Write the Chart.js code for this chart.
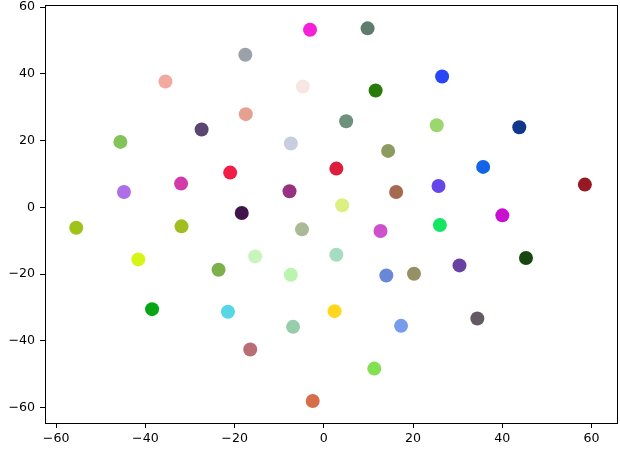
<!DOCTYPE html>
<html>
<head>
<meta charset="utf-8">
<script src="https://cdn.jsdelivr.net/npm/chart.js@4"></script>
<style>
  html, body { margin: 0; padding: 0; background: #fff; }
  #wrap { width: 620px; height: 450px; }
</style>
</head>
<body>
<div id="wrap"><canvas id="grafico"></canvas></div>
<script>
// centros dos grupos
const clusterX = [-3.1, 9.8, -17.6, -35.5, -4.7, -17.5, -27.4, -45.6, -7.4, -21.0,
                  -32.0, -44.8, -7.7, -18.4, 26.5, 11.6, 5.0, 25.3, 43.8, 14.4,
                  2.8, 35.7, 16.2, 25.7, 58.5, 4.1, 40.0, -55.5, -31.9, -4.9,
                  -41.6, -15.4, -23.6, -7.4, -38.5, -21.5, -6.9, -16.5, -2.5, 12.7,
                  26.0, 2.8, 14.0, 20.2, 30.4, 45.3, 2.4, 17.3, 34.4, 11.3];
const clusterY = [53.2, 53.6, 45.7, 37.7, 36.2, 27.9, 23.3, 19.6, 19.1, 10.4,
                  7.1, 4.6, 4.8, -1.7, 39.2, 35.0, 25.8, 24.6, 24.0, 16.9,
                  11.6, 12.1, 4.6, 6.4, 6.8, 0.6, -2.4, -6.1, -5.7, -6.6,
                  -15.6, -14.7, -18.7, -20.2, -30.5, -31.3, -35.8, -42.6, -58.0, -7.1,
                  -5.3, -14.2, -20.4, -19.9, -17.4, -15.2, -31.1, -35.5, -33.3, -48.3];
const clusterColors = ['#f520d8', '#5f7d6e', '#9ba0aa', '#f2aaa0', '#f6e6e4', '#e6a090', '#5a466e', '#84c35a', '#c8cde0', '#f01e46',
                       '#d23caa', '#af6ee6', '#963282', '#41144b', '#2846f5', '#287a0a', '#6e917d', '#9bd76e', '#0f378c', '#8c9b5f',
                       '#dc1e3c', '#1464e6', '#a56950', '#6446eb', '#961923', '#dcf082', '#c80fd2', '#a0c319', '#a0be1e', '#aab996',
                       '#d7f514', '#c8f5be', '#7daf4b', '#b9f5af', '#0aa514', '#55d7e6', '#96cdaa', '#b96e73', '#d76e4b', '#cd50cd',
                       '#14e664', '#a5dcc3', '#6987d7', '#969164', '#6941a0', '#19460f', '#ffd71e', '#789beb', '#645a64', '#82e150'];
const xTicks = [-60, -40, -20, 0, 20, 40, 60];
const yTicks = [-60, -40, -20, 0, 20, 40, 60];

const pontos = clusterX.map((x, i) => ({ x: x, y: clusterY[i] }));

// moldura completa (estilo matplotlib)
const moldura = {
    id: 'moldura',
    afterDraw(chart) {
        const a = chart.chartArea, ctx = chart.ctx;
        ctx.save();
        ctx.strokeStyle = '#000';
        ctx.lineWidth = 1;
        ctx.strokeRect(a.left + 0.5, a.top + 0.5, a.right - a.left, a.bottom - a.top);
        ctx.restore();
    }
};

const menos = v => String(v).replace('-', '\u2212');

new Chart(document.getElementById('grafico'), {
    type: 'scatter',
    data: {
        datasets: [{
            data: pontos,
            pointBackgroundColor: clusterColors,
            pointBorderWidth: 0,
            pointRadius: 7,
            pointHoverRadius: 7
        }]
    },
    options: {
        responsive: true,
        maintainAspectRatio: false,
        animation: false,
        layout: { autoPadding: false, padding: { left: 0, right: 3, top: 5, bottom: 0 } },
        plugins: { legend: { display: false }, tooltip: { enabled: false } },
        scales: {
            x: {
                type: 'linear',
                min: -62.5,
                max: 65.7,
                afterBuildTicks: s => { s.ticks = xTicks.map(v => ({ value: v })); },
                afterFit: s => { s.height = 27; s.paddingLeft = 0; s.paddingRight = 0; },
                grid: { drawOnChartArea: false, drawTicks: true, tickLength: 5, color: '#000' },
                border: { display: true, color: '#000' },
                ticks: { color: '#000', padding: 3, maxRotation: 0, font: { family: 'DejaVu Sans', size: 12.6 }, callback: menos }
            },
            y: {
                type: 'linear',
                min: -64.6,
                max: 60.6,
                afterBuildTicks: s => { s.ticks = yTicks.map(v => ({ value: v })); },
                afterFit: s => { s.width = 45; s.paddingTop = 0; s.paddingBottom = 0; },
                grid: { drawOnChartArea: false, drawTicks: true, tickLength: 5, color: '#000' },
                border: { display: true, color: '#000' },
                ticks: { color: '#000', padding: 5, font: { family: 'DejaVu Sans', size: 12.6 }, callback: menos }
            }
        }
    },
    plugins: [moldura]
});
</script>
</body>
</html>
